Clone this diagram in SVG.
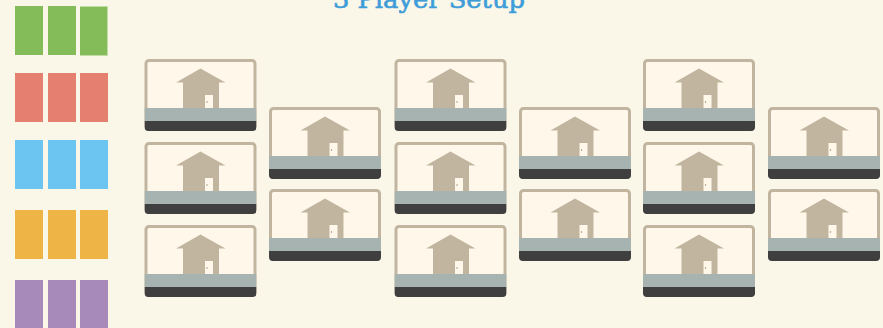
<svg xmlns="http://www.w3.org/2000/svg" xmlns:xlink="http://www.w3.org/1999/xlink" width="883" height="328" viewBox="0 0 883 328">
<style>
.title{font-family:"DejaVu Serif","Liberation Serif",serif;font-size:24px;fill:#3e9dd8;stroke:#3e9dd8;stroke-width:0.6px}
.frame{fill:#fff8ea;stroke:#c2b59f;stroke-width:3}
.band{fill:#a7b3b0}
.dark{fill:#3f3f40}
.house{fill:#c2b59f}
.door{fill:#fff8ea}
.knob{fill:#8f8672}
.g{fill:#84bc59}.r{fill:#e57f70}.b{fill:#6cc4f1}.o{fill:#eeb546}.p{fill:#a78ab9}
</style>
<defs>
<clipPath id="c"><rect x="0" y="0" width="112" height="72" rx="4"/></clipPath>
<g id="card">
<rect class="frame" x="1.5" y="1.5" width="109" height="69" rx="3"/>
<g clip-path="url(#c)">
<rect class="band" x="0" y="49" width="112" height="13"/>
<rect class="dark" x="0" y="62" width="112" height="10"/>
</g>
<polygon class="house" points="56,9.500 81,23.500 74.500,23.500 74.500,49 38.500,49 38.500,23.500 31.500,23.500"/>
<rect class="door" x="60.500" y="36" width="8" height="13"/>
<circle class="knob" cx="62.500" cy="43" r="0.700"/>
</g>
</defs>
<rect width="883" height="328" fill="#faf6e8"/>
<text id="title" class="title" x="333" y="8" textLength="192" lengthAdjust="spacingAndGlyphs">3 Player Setup</text>
<g id="swatches">
<rect class="g" x="15" y="6" width="28" height="49"/><rect class="g" x="48" y="6" width="28" height="49"/><rect x="80" y="6" width="28" height="50" fill="#c3dda6"/><rect class="g" x="80" y="7" width="27" height="48"/>
<rect class="r" x="15" y="73" width="28" height="49"/><rect class="r" x="48" y="73" width="28" height="49"/><rect class="r" x="80" y="73" width="28" height="49"/>
<rect class="b" x="15" y="140" width="28" height="49"/><rect class="b" x="48" y="140" width="28" height="49"/><rect class="b" x="80" y="140" width="28" height="49"/>
<rect class="o" x="15" y="210" width="28" height="49"/><rect class="o" x="48" y="210" width="28" height="49"/><rect class="o" x="80" y="210" width="28" height="49"/>
<rect class="p" x="15" y="280" width="28" height="48"/><rect class="p" x="48" y="280" width="28" height="48"/><rect class="p" x="80" y="280" width="28" height="48"/>
</g>
<g id="card-1"><use xlink:href="#card" href="#card" x="144.500" y="59"/></g>
<g id="card-2"><use href="#card" x="144.500" y="142"/></g>
<g id="card-3"><use href="#card" x="144.500" y="225"/></g>
<g id="card-4"><use href="#card" x="269" y="107"/></g>
<g id="card-5"><use href="#card" x="269" y="189"/></g>
<g id="card-6"><use href="#card" x="394.500" y="59"/></g>
<g id="card-7"><use href="#card" x="394.500" y="142"/></g>
<g id="card-8"><use href="#card" x="394.500" y="225"/></g>
<g id="card-9"><use href="#card" x="519" y="107"/></g>
<g id="card-10"><use href="#card" x="519" y="189"/></g>
<g id="card-11"><use href="#card" x="643" y="59"/></g>
<g id="card-12"><use href="#card" x="643" y="142"/></g>
<g id="card-13"><use href="#card" x="643" y="225"/></g>
<g id="card-14"><use href="#card" x="768" y="107"/></g>
<g id="card-15"><use href="#card" x="768" y="189"/></g>
</svg>
